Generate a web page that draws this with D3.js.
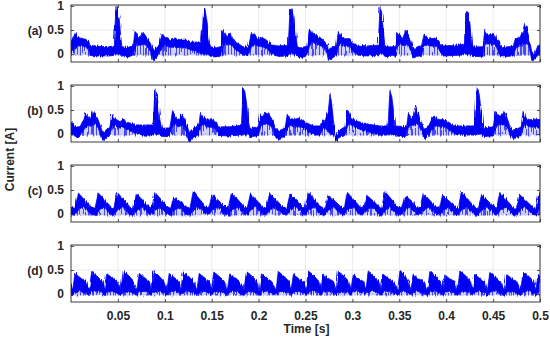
<!DOCTYPE html>
<html><head><meta charset="utf-8">
<script src="https://cdn.jsdelivr.net/npm/d3@7"></script>
<style>
body{margin:0;background:#fff}
text{font-family:Arial,"Liberation Sans",sans-serif;font-weight:bold;fill:#262626;font-size:12px}
</style>
</head><body>
<svg id="chart" width="550" height="339"></svg>
<script>
// ---------- data (time [s], upper edge of band [A], lower edge of dense band [A]) ----------
const panelLabels = ["(a)", "(b)", "(c)", "(d)"];
const yTickValues = [0, 0.5, 1];
const yTickLabels = ["0", "0.5", "1"];
const xTickValues = [0.05, 0.1, 0.15, 0.2, 0.25, 0.3, 0.35, 0.4, 0.45, 0.5];
const xTickLabels = ["0.05", "0.1", "0.15", "0.2", "0.25", "0.3", "0.35", "0.4", "0.45", "0.5"];
const xLabel = "Time [s]";
const yLabel = "Current [A]";

const currentA = [
[0.0000,0.25,0.02],[0.0043,0.45,0.12],[0.0078,0.35,0.17],[0.0131,0.32,0.16],[0.0185,0.29,0.12],
[0.0202,0.18,-0.03],[0.0309,0.16,-0.04],[0.0400,0.15,-0.04],[0.0451,0.17,-0.03],[0.0462,0.19,-0.02],
[0.0479,0.99,0.0],[0.0497,0.92,0.0],[0.0515,0.72,0.0],[0.0529,0.39,-0.02],[0.0543,0.15,-0.05],
[0.0611,0.14,-0.06],[0.0664,0.18,-0.03],[0.0682,0.47,0.12],[0.0706,0.42,0.22],[0.0735,0.35,0.18],
[0.0763,0.47,0.2],[0.0788,0.40,0.2],[0.0824,0.29,0.12],[0.0848,0.22,0.05],[0.0863,0.10,-0.12],
[0.0884,0.10,-0.13],[0.0912,0.14,-0.06],[0.0948,0.25,0.05],[0.0973,0.43,0.15],[0.1001,0.35,0.18],
[0.1054,0.29,0.14],[0.1125,0.32,0.14],[0.1179,0.29,0.13],[0.1232,0.29,0.12],[0.1285,0.25,0.08],
[0.1338,0.25,0.06],[0.1374,0.22,0.02],[0.1392,0.25,0.0],[0.1416,0.97,0.0],[0.1434,0.89,0.0],
[0.1452,0.65,0.0],[0.1470,0.32,-0.02],[0.1487,0.15,-0.05],[0.1551,0.13,-0.06],[0.1605,0.16,-0.04],
[0.1615,0.49,0.1],[0.1640,0.45,0.22],[0.1665,0.35,0.18],[0.1693,0.45,0.2],[0.1718,0.35,0.18],
[0.1747,0.25,0.1],[0.1782,0.22,0.06],[0.1835,0.15,-0.03],[0.1889,0.15,-0.03],[0.1924,0.45,0.15],
[0.1960,0.39,0.2],[0.1995,0.32,0.16],[0.2031,0.35,0.16],[0.2084,0.29,0.12],[0.2137,0.19,0.0],
[0.2211,0.17,-0.05],[0.2300,0.18,-0.04],[0.2317,0.22,-0.02],[0.2335,0.92,0.0],[0.2356,0.95,0.0],
[0.2378,0.79,0.0],[0.2395,0.45,-0.02],[0.2413,0.15,-0.05],[0.2442,0.13,-0.08],[0.2513,0.16,-0.04],
[0.2541,0.51,0.15],[0.2566,0.45,0.25],[0.2601,0.40,0.22],[0.2637,0.37,0.2],[0.2672,0.32,0.16],
[0.2708,0.25,0.1],[0.2733,0.19,0.0],[0.2743,0.08,-0.13],[0.2761,0.12,-0.12],[0.2832,0.19,-0.02],
[0.2850,0.47,0.15],[0.2875,0.39,0.2],[0.2921,0.32,0.16],[0.2974,0.32,0.15],[0.3010,0.22,0.05],
[0.3045,0.19,-0.02],[0.3152,0.17,-0.04],[0.3258,0.18,-0.03],[0.3276,0.19,-0.02],[0.3294,0.97,0.0],
[0.3315,0.82,0.0],[0.3329,0.52,0.0],[0.3347,0.15,-0.05],[0.3418,0.15,-0.05],[0.3464,0.16,-0.04],
[0.3482,0.45,0.15],[0.3507,0.39,0.22],[0.3535,0.32,0.18],[0.3570,0.50,0.2],[0.3595,0.39,0.2],
[0.3631,0.19,0.02],[0.3649,0.10,-0.08],[0.3702,0.16,-0.04],[0.3737,0.17,-0.03],[0.3762,0.40,0.15],
[0.3791,0.35,0.2],[0.3826,0.32,0.17],[0.3879,0.33,0.16],[0.3915,0.29,0.12],[0.3950,0.19,0.0],
[0.3968,0.17,-0.04],[0.4075,0.18,-0.03],[0.4181,0.20,-0.02],[0.4195,0.25,0.0],[0.4209,0.89,0.0],
[0.4231,0.85,0.0],[0.4252,0.65,0.0],[0.4270,0.25,-0.03],[0.4288,0.15,-0.05],[0.4394,0.15,-0.05],
[0.4412,0.51,0.15],[0.4437,0.42,0.22],[0.4465,0.39,0.2],[0.4508,0.45,0.2],[0.4536,0.32,0.14],
[0.4572,0.19,-0.02],[0.4589,0.15,-0.06],[0.4643,0.15,-0.05],[0.4714,0.16,-0.04],[0.4742,0.35,0.12],
[0.4777,0.32,0.16],[0.4813,0.45,0.2],[0.4838,0.64,0.2],[0.4863,0.52,0.22],[0.4884,0.35,0.15],
[0.4902,0.15,-0.05],[0.4912,0.05,-0.13],[0.4944,0.00,-0.1],[0.4980,0.19,-0.02],[0.5000,0.19,-0.02]
];

const currentB = [
[0.0000,0.22,0.0],[0.0007,0.25,0.0],[0.0050,0.15,-0.05],[0.0096,0.15,-0.05],[0.0131,0.29,0.08],
[0.0160,0.43,0.15],[0.0185,0.35,0.18],[0.0209,0.32,0.16],[0.0238,0.50,0.2],[0.0266,0.39,0.2],
[0.0291,0.29,0.12],[0.0327,0.09,-0.08],[0.0344,0.02,-0.15],[0.0373,0.06,-0.1],[0.0415,0.15,-0.03],
[0.0433,0.42,0.12],[0.0458,0.34,0.18],[0.0493,0.29,0.15],[0.0529,0.25,0.12],[0.0550,0.35,0.15],
[0.0586,0.25,0.1],[0.0646,0.22,0.05],[0.0699,0.19,0.0],[0.0770,0.19,-0.02],[0.0859,0.19,-0.02],
[0.0877,0.22,0.0],[0.0895,0.92,0.0],[0.0912,0.85,0.0],[0.0930,0.62,0.0],[0.0948,0.29,-0.02],
[0.0966,0.12,-0.05],[0.1054,0.13,-0.05],[0.1083,0.49,0.15],[0.1108,0.42,0.22],[0.1143,0.29,0.15],
[0.1179,0.42,0.18],[0.1203,0.32,0.15],[0.1232,0.22,0.03],[0.1260,0.03,-0.17],[0.1285,0.09,-0.1],
[0.1367,0.22,0.0],[0.1381,0.45,0.15],[0.1409,0.35,0.2],[0.1445,0.30,0.15],[0.1498,0.32,0.14],
[0.1551,0.25,0.08],[0.1569,0.15,-0.03],[0.1693,0.15,-0.04],[0.1800,0.18,-0.02],[0.1818,0.22,0.0],
[0.1835,0.95,0.0],[0.1853,0.89,0.0],[0.1871,0.65,0.0],[0.1889,0.29,-0.02],[0.1906,0.12,-0.05],
[0.1995,0.15,-0.04],[0.2020,0.42,0.12],[0.2048,0.35,0.2],[0.2073,0.45,0.2],[0.2102,0.45,0.2],
[0.2137,0.35,0.15],[0.2175,0.15,-0.05],[0.2211,0.05,-0.13],[0.2229,0.08,-0.1],[0.2282,0.12,-0.05],
[0.2307,0.43,0.12],[0.2335,0.33,0.18],[0.2371,0.30,0.15],[0.2424,0.33,0.15],[0.2459,0.30,0.14],
[0.2513,0.23,0.08],[0.2584,0.17,-0.02],[0.2655,0.17,-0.02],[0.2683,0.30,0.1],[0.2708,0.27,0.12],
[0.2743,0.47,0.05],[0.2761,0.83,0.0],[0.2779,0.63,0.0],[0.2797,0.30,-0.02],[0.2814,-0.03,-0.12],
[0.2832,0.0,-0.13],[0.2850,0.07,-0.08],[0.2920,0.15,-0.02],[0.2946,0.50,0.15],[0.2967,0.43,0.22],
[0.2992,0.33,0.18],[0.3045,0.27,0.12],[0.3116,0.23,0.08],[0.3187,0.20,0.03],[0.3294,0.17,-0.02],
[0.3365,0.17,-0.02],[0.3382,0.23,0.0],[0.3400,0.90,0.0],[0.3421,0.77,0.0],[0.3436,0.50,0.0],
[0.3453,0.17,-0.04],[0.3578,0.15,-0.05],[0.3595,0.43,0.12],[0.3620,0.33,0.18],[0.3649,0.40,0.18],
[0.3673,0.60,0.2],[0.3702,0.43,0.2],[0.3737,0.23,0.05],[0.3762,0.10,-0.1],[0.3808,0.15,-0.04],
[0.3862,0.37,0.12],[0.3890,0.33,0.18],[0.3933,0.30,0.15],[0.3986,0.30,0.14],[0.4039,0.23,0.08],
[0.4092,0.17,-0.02],[0.4288,0.17,-0.02],[0.4312,0.37,0.0],[0.4330,0.97,0.0],[0.4351,0.83,0.0],
[0.4369,0.57,0.0],[0.4387,0.23,-0.03],[0.4405,0.13,-0.05],[0.4501,0.15,-0.04],[0.4529,0.47,0.12],
[0.4554,0.40,0.2],[0.4589,0.37,0.18],[0.4618,0.47,0.2],[0.4650,0.33,0.15],[0.4678,0.17,0.0],
[0.4706,0.08,-0.1],[0.4749,0.10,-0.08],[0.4800,0.15,-0.03],[0.4820,0.47,0.12],[0.4848,0.33,0.18],
[0.4891,0.30,0.15],[0.4944,0.31,0.14],[0.5000,0.30,0.12]
];

const currentC = [
[0.0000,0.14,-0.01],[0.0043,0.12,-0.02],[0.0078,0.44,0.08],[0.0138,0.31,0.14],[0.0213,0.15,-0.01],
[0.0256,0.12,-0.02],[0.0291,0.44,0.08],[0.0351,0.31,0.14],[0.0426,0.15,-0.01],
[0.0458,0.12,-0.02],[0.0493,0.45,0.08],[0.0553,0.32,0.14],[0.0628,0.15,-0.01],
[0.0664,0.12,-0.02],[0.0699,0.42,0.08],[0.0759,0.30,0.14],[0.0834,0.15,-0.01],
[0.0860,0.12,-0.02],[0.0895,0.45,0.08],[0.0955,0.32,0.14],[0.1030,0.15,-0.01],
[0.1062,0.12,-0.02],[0.1097,0.35,0.08],[0.1157,0.27,0.13],[0.1232,0.15,-0.01],
[0.1268,0.12,-0.02],[0.1303,0.47,0.08],[0.1363,0.33,0.14],[0.1438,0.15,-0.01],
[0.1470,0.12,-0.02],[0.1505,0.42,0.08],[0.1565,0.30,0.14],[0.1640,0.15,-0.01],
[0.1676,0.12,-0.02],[0.1711,0.45,0.08],[0.1771,0.32,0.14],[0.1846,0.15,-0.01],
[0.1878,0.12,-0.02],[0.1913,0.42,0.08],[0.1973,0.30,0.14],[0.2048,0.15,-0.01],
[0.2084,0.12,-0.02],[0.2119,0.45,0.08],[0.2179,0.32,0.14],[0.2254,0.15,-0.01],
[0.2300,0.12,-0.02],[0.2335,0.42,0.08],[0.2395,0.30,0.14],[0.2470,0.15,-0.01],
[0.2495,0.12,-0.02],[0.2530,0.45,0.08],[0.2590,0.32,0.14],[0.2665,0.15,-0.01],
[0.2708,0.12,-0.02],[0.2743,0.39,0.08],[0.2803,0.29,0.14],[0.2878,0.15,-0.01],
[0.2911,0.12,-0.02],[0.2946,0.45,0.08],[0.3006,0.32,0.14],[0.3081,0.15,-0.01],
[0.3117,0.12,-0.02],[0.3152,0.39,0.08],[0.3212,0.29,0.14],[0.3287,0.15,-0.01],
[0.3312,0.12,-0.02],[0.3347,0.47,0.08],[0.3407,0.33,0.14],[0.3482,0.15,-0.01],
[0.3525,0.12,-0.02],[0.3560,0.39,0.08],[0.3620,0.29,0.14],[0.3695,0.15,-0.01],
[0.3720,0.12,-0.02],[0.3755,0.44,0.08],[0.3815,0.31,0.14],[0.3890,0.15,-0.01],
[0.3926,0.12,-0.02],[0.3961,0.39,0.08],[0.4021,0.29,0.14],[0.4096,0.15,-0.01],
[0.4128,0.12,-0.02],[0.4163,0.47,0.08],[0.4223,0.33,0.14],[0.4298,0.15,-0.01],
[0.4341,0.12,-0.02],[0.4376,0.39,0.08],[0.4436,0.29,0.14],[0.4511,0.15,-0.01],
[0.4537,0.12,-0.02],[0.4572,0.45,0.08],[0.4632,0.32,0.14],[0.4707,0.15,-0.01],
[0.4750,0.12,-0.02],[0.4785,0.40,0.08],[0.4845,0.29,0.14],[0.4920,0.15,-0.01],
[0.4955,0.12,-0.02],[0.4990,0.45,0.08],[0.5000,0.42,0.1]
];

const currentD = [
[0.0000,0.20,-0.02],
[0.0018,0.08,-0.03],[0.0043,0.43,0.04],[0.0093,0.35,0.06],[0.0153,0.26,0.02],
[0.0195,0.08,-0.03],[0.0220,0.47,0.04],[0.0270,0.39,0.06],[0.0330,0.27,0.02],
[0.0355,0.08,-0.03],[0.0380,0.43,0.04],[0.0430,0.35,0.06],[0.0490,0.26,0.02],
[0.0532,0.08,-0.03],[0.0557,0.48,0.04],[0.0607,0.40,0.06],[0.0667,0.27,0.02],
[0.0703,0.08,-0.03],[0.0728,0.43,0.04],[0.0778,0.35,0.06],[0.0838,0.26,0.02],
[0.0852,0.08,-0.03],[0.0877,0.48,0.04],[0.0927,0.40,0.06],[0.0987,0.27,0.02],
[0.1022,0.08,-0.03],[0.1047,0.43,0.04],[0.1097,0.35,0.06],[0.1157,0.26,0.02],
[0.1171,0.08,-0.03],[0.1196,0.46,0.04],[0.1246,0.38,0.06],[0.1306,0.27,0.02],
[0.1342,0.08,-0.03],[0.1367,0.43,0.04],[0.1417,0.35,0.06],[0.1477,0.26,0.02],
[0.1498,0.08,-0.03],[0.1523,0.46,0.04],[0.1573,0.38,0.06],[0.1633,0.27,0.02],
[0.1668,0.08,-0.03],[0.1693,0.42,0.04],[0.1743,0.34,0.06],[0.1803,0.26,0.02],
[0.1846,0.08,-0.03],[0.1871,0.47,0.04],[0.1921,0.39,0.06],[0.1981,0.27,0.02],
[0.2006,0.08,-0.03],[0.2031,0.42,0.04],[0.2081,0.34,0.06],[0.2141,0.26,0.02],
[0.2186,0.08,-0.03],[0.2211,0.47,0.04],[0.2261,0.39,0.06],[0.2321,0.27,0.02],
[0.2346,0.08,-0.03],[0.2371,0.41,0.04],[0.2421,0.33,0.06],[0.2481,0.26,0.02],
[0.2505,0.08,-0.03],[0.2530,0.48,0.04],[0.2580,0.40,0.06],[0.2640,0.27,0.02],
[0.2665,0.08,-0.03],[0.2690,0.41,0.04],[0.2740,0.33,0.06],[0.2800,0.26,0.02],
[0.2825,0.08,-0.03],[0.2850,0.47,0.04],[0.2900,0.39,0.06],[0.2960,0.27,0.02],
[0.2985,0.08,-0.03],[0.3010,0.41,0.04],[0.3060,0.33,0.06],[0.3120,0.26,0.02],
[0.3144,0.08,-0.03],[0.3169,0.48,0.04],[0.3219,0.40,0.06],[0.3279,0.27,0.02],
[0.3304,0.08,-0.03],[0.3329,0.41,0.04],[0.3379,0.33,0.06],[0.3439,0.26,0.02],
[0.3482,0.08,-0.03],[0.3507,0.49,0.04],[0.3557,0.41,0.06],[0.3597,0.27,0.02],
[0.3624,0.08,-0.03],[0.3649,0.41,0.04],[0.3699,0.33,0.06],[0.3759,0.26,0.02],
[0.3801,0.08,-0.03],[0.3826,0.47,0.04],[0.3876,0.39,0.06],[0.3936,0.27,0.02],
[0.3961,0.08,-0.03],[0.3986,0.40,0.04],[0.4036,0.32,0.06],[0.4096,0.26,0.02],
[0.4121,0.08,-0.03],[0.4146,0.48,0.04],[0.4196,0.40,0.06],[0.4256,0.27,0.02],
[0.4280,0.08,-0.03],[0.4305,0.41,0.04],[0.4355,0.33,0.06],[0.4415,0.26,0.02],
[0.4440,0.08,-0.03],[0.4465,0.45,0.04],[0.4515,0.37,0.06],[0.4575,0.27,0.02],
[0.4618,0.08,-0.03],[0.4643,0.41,0.04],[0.4693,0.33,0.06],[0.4753,0.26,0.02],
[0.4795,0.08,-0.03],[0.4820,0.47,0.04],[0.4870,0.39,0.06],[0.4930,0.27,0.02],
[0.4955,0.08,-0.03],[0.4980,0.41,0.04],[0.5000,0.37,0.05]
];

const seriesList = [currentA, currentB, currentC, currentD];

// ---------- layout ----------
const svg = d3.select("#chart");
const left = 71, right = 540;
const panelTops = [5, 85, 165, 245];
const panelH = 57;
const axisColor = "#262626";
const lineBlue = "#0000f5";

const x = d3.scaleLinear().domain([0, 0.5]).range([left, right]);

const defs = svg.append("defs");

// rough, noisy edge look of the measured signal
const filt = defs.append("filter").attr("id", "rough")
  .attr("filterUnits", "userSpaceOnUse").attr("x", 0).attr("y", 0).attr("width", 550).attr("height", 339);
filt.append("feTurbulence").attr("type", "fractalNoise").attr("baseFrequency", "0.9 0.04")
  .attr("numOctaves", 2).attr("seed", 7).attr("result", "n");
filt.append("feDisplacementMap").attr("in", "SourceGraphic").attr("in2", "n")
  .attr("scale", 4).attr("xChannelSelector", "G").attr("yChannelSelector", "R");

// thin vertical spikes texture below the dense band
const pat = defs.append("pattern").attr("id", "spikes").attr("patternUnits", "userSpaceOnUse")
  .attr("width", 11).attr("height", 6);
pat.append("rect").attr("width", 11).attr("height", 6).attr("fill", "rgba(90,90,255,0.28)");
[0, 3, 5, 8].forEach(px => pat.append("rect").attr("x", px).attr("width", 0.9).attr("height", 6)
  .attr("fill", "rgba(0,0,245,0.75)"));

seriesList.forEach((data, i) => {
  const top = panelTops[i];
  const y = d3.scaleLinear().domain([-0.165, 1.02]).range([top + panelH, top]);
  const g = svg.append("g");

  defs.append("clipPath").attr("id", "clip" + i)
    .append("rect").attr("x", left).attr("y", top).attr("width", right - left).attr("height", panelH);

  // grid
  g.selectAll(".vg").data(xTickValues).join("line")
    .attr("x1", d => x(d)).attr("x2", d => x(d))
    .attr("y1", top).attr("y2", top + panelH)
    .attr("stroke", "#dedede").attr("stroke-width", 0.6);
  g.selectAll(".hg").data(yTickValues).join("line")
    .attr("x1", left).attr("x2", right)
    .attr("y1", d => y(d)).attr("y2", d => y(d))
    .attr("stroke", "#dedede").attr("stroke-width", 0.6);

  const dg = g.append("g").attr("clip-path", `url(#clip${i})`);
  const fg = dg.append("g").attr("filter", "url(#rough)");
  // light spiky region beneath dense band
  fg.append("path").datum(data)
    .attr("d", d3.area().x(d => x(d[0])).y0(d => y(Math.min(d[2], -0.03))).y1(d => y(d[2])))
    .attr("fill", "url(#spikes)");
  // dense band
  fg.append("path").datum(data)
    .attr("d", d3.area().x(d => x(d[0])).y0(d => y(d[2])).y1(d => y(d[1])))
    .attr("fill", lineBlue).attr("stroke", lineBlue).attr("stroke-width", 0.8).attr("stroke-linejoin", "round");

  // axes (ticks inward, box)
  const axL = d3.axisLeft(y).tickValues(yTickValues).tickSize(-3).tickFormat((d, k) => yTickLabels[k]).tickPadding(7);
  const axR = d3.axisRight(y).tickValues(yTickValues).tickSize(-3).tickFormat("");
  const axT = d3.axisTop(x).tickValues(xTickValues).tickSize(-3).tickFormat("");
  const axB = d3.axisBottom(x).tickValues(xTickValues).tickSize(-3)
    .tickFormat(i === 3 ? ((d, k) => xTickLabels[k]) : "").tickPadding(9);

  [ [axL, `translate(${left},0)`], [axR, `translate(${right},0)`],
    [axT, `translate(0,${top})`], [axB, `translate(0,${top + panelH})`] ].forEach(([ax, tr]) => {
    const a = g.append("g").attr("transform", tr).call(ax);
    a.select(".domain").remove();
    a.selectAll("line").attr("stroke", axisColor).attr("stroke-width", 0.8);
    a.selectAll("text").attr("font-size", 12).attr("font-weight", "bold").attr("fill", axisColor)
      .attr("font-family", "Arial, 'Liberation Sans', sans-serif");
  });

  g.append("rect").attr("x", left).attr("y", top).attr("width", right - left).attr("height", panelH)
    .attr("fill", "none").attr("stroke", axisColor).attr("stroke-width", 0.9);

  g.append("text").attr("x", 35).attr("y", y(0.5)).attr("dy", "0.4em")
    .attr("text-anchor", "middle").text(panelLabels[i]);
});

svg.append("text").attr("x", 306.5).attr("y", 333)
  .attr("text-anchor", "middle").text(xLabel);
svg.append("text").attr("transform", "translate(13.5,159.5) rotate(-90)")
  .attr("text-anchor", "middle").text(yLabel);
</script>
</body></html>
